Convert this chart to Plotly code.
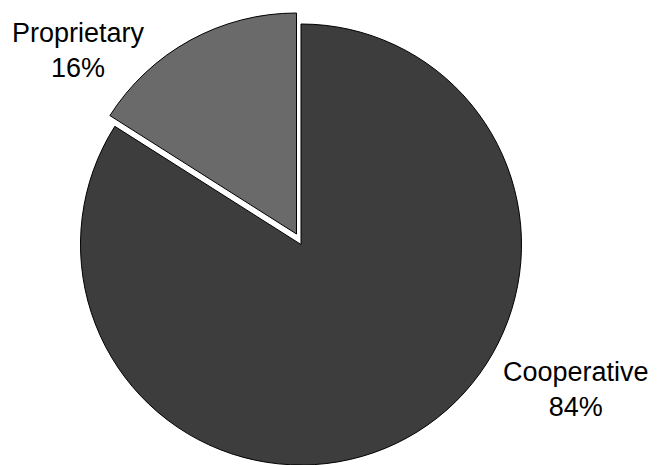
import plotly.graph_objects as go

labels = ["Cooperative", "Proprietary"]
values = [84, 16]
colors = ["#3d3d3d", "#6a6a6a"]

W, H = 657, 465
total = sum(values)
pcts = [round(v * 100 / total) for v in values]

fig = go.Figure()

# Cooperative (main body) trace: Proprietary slice hidden
fig.add_trace(go.Pie(
    labels=labels, values=values, sort=False, direction="clockwise",
    rotation=0, textinfo="none", hoverinfo="label+percent",
    marker=dict(colors=[colors[0], "rgba(0,0,0,0)"],
                line=dict(color=["black", "rgba(0,0,0,0)"], width=[1, 0])),
    domain=dict(x=[80 / W, 522 / W], y=[0, 1 - 24 / H]),
    showlegend=False,
))

# Proprietary (exploded) trace: Cooperative slice hidden
fig.add_trace(go.Pie(
    labels=labels, values=values, sort=False, direction="clockwise",
    rotation=0, textinfo="none", hoverinfo="label+percent",
    marker=dict(colors=["rgba(0,0,0,0)", colors[1]],
                line=dict(color=["rgba(0,0,0,0)", "black"], width=[0, 1])),
    domain=dict(x=[75.5 / W, 517.5 / W], y=[1 - 455 / H, 1 - 13 / H]),
    showlegend=False,
))

label_pos = {"Proprietary": (78, 50), "Cooperative": (576, 389)}
for lab, p in zip(labels, pcts):
    x, y = label_pos[lab]
    fig.add_annotation(
        x=x / W, y=1 - y / H, xref="paper", yref="paper",
        text=f"{lab}<br>{p}%", showarrow=False, align="center",
        xanchor="center", yanchor="middle",
        font=dict(family="Liberation Sans, Arial, sans-serif", size=27, color="black"),
    )

fig.update_layout(
    width=W, height=H, autosize=False,
    margin=dict(l=0, r=0, t=0, b=0),
    paper_bgcolor="white", plot_bgcolor="white",
)

fig.write_html("out.html", config={"displayModeBar": False},
               post_script="document.body.style.margin='0';")
